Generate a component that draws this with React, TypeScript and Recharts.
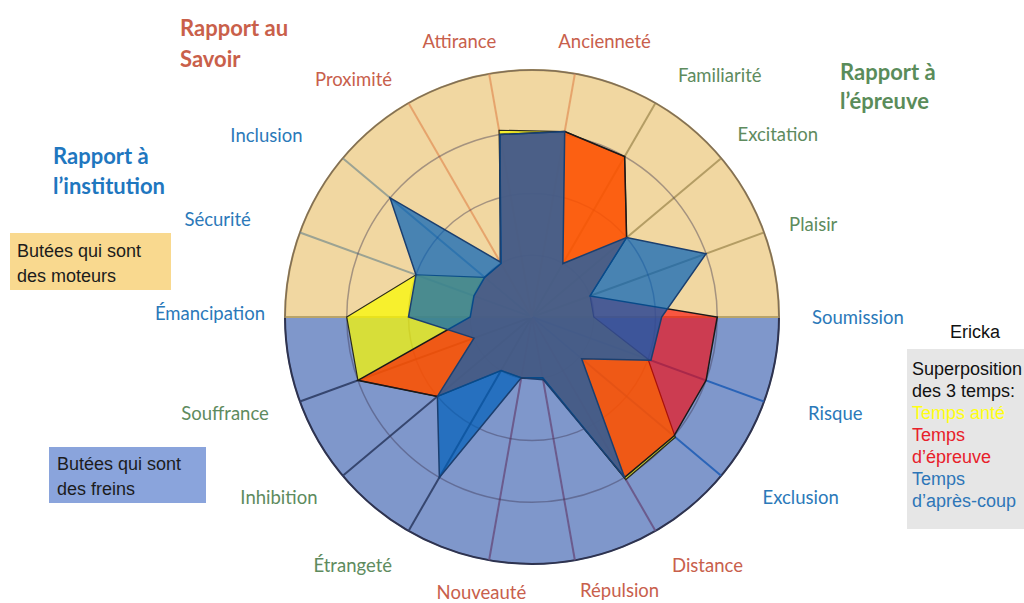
import React from "react";
import {
  PieChart,
  Pie,
  Cell,
  RadarChart,
  Radar,
  PolarGrid,
  PolarAngleAxis,
  PolarRadiusAxis,
} from "recharts";

// axes du radar, dans le sens horaire depuis le haut
const axes = [
  "Ancienneté",
  "Familiarité",
  "Excitation",
  "Plaisir",
  "Soumission",
  "Risque",
  "Exclusion",
  "Distance",
  "Répulsion",
  "Nouveauté",
  "Étrangeté",
  "Inhibition",
  "Souffrance",
  "Émancipation",
  "Sécurité",
  "Inclusion",
  "Proximité",
  "Attirance",
];

const groupes = [
  "savoir", "epreuve", "epreuve", "epreuve", "institution", "institution",
  "institution", "savoir", "savoir", "savoir", "epreuve", "epreuve",
  "epreuve", "institution", "institution", "institution", "savoir", "savoir",
];

const tempsAnte = [3.05, 3, 2, 1, 1, 2, 3.03, 3.04, 1, 1, 1, 2, 3, 3, 2, 1, 1, 3.07];
const tempsEpreuve = [3.05, 3, 2, 1, 3, 3, 3, 3, 1, 1, 1, 2, 3, 1, 1, 1, 1, 3];
const tempsApresCoup = [3.05, 1, 2, 3, 2.1, 2.05, 1.05, 3, 1.03, 1, 3, 2, 1, 2, 2, 3, 1.03, 3];

const zones = [
  { nom: "Butées qui sont des freins", part: 1 },
  { nom: "Butées qui sont des moteurs", part: 1 },
];

const W = 1024;
const H = 603;
const CX = 532;
const CY = 317;
const R = 247;
const MARGE = { top: 0, right: 0, bottom: 0, left: 0 };

const couleurLabel: Record<string, string> = {
  savoir: "#c8604c",
  epreuve: "#5e8b5e",
  institution: "#2b79b9",
};

// [moitié haute, moitié basse]
const couleurRayon: Record<string, string[]> = {
  savoir: ["#e6a46c", "#6b5b8d"],
  epreuve: ["#b49d64", "#36466f"],
  institution: ["#9ca393", "#2a64b8"],
};

// petits ajustements de placement des étiquettes (comme dans l'original)
const decalage: Record<string, number[]> = {
  Familiarité: [6, 0],
  Excitation: [-9, -3],
  Plaisir: [-6, 3],
  Risque: [13, 0],
  Exclusion: [16, 0],
  Distance: [0, 6],
  Répulsion: [15, -3],
  Nouveauté: [22, -1],
  Étrangeté: [0, 6],
  Émancipation: [13, -4],
  Sécurité: [-18, -2],
  Inclusion: [-15, -2],
  Proximité: [0, 4],
};

const data = axes.map((axe, i) => ({
  axe,
  ante: tempsAnte[i],
  epreuve: tempsEpreuve[i],
  apres: tempsApresCoup[i],
}));

function Rayon(props: any) {
  const { payload } = props;
  const i = axes.indexOf(payload.value);
  const a = (payload.coordinate * Math.PI) / 180;
  const dx = Math.cos(a);
  const dy = -Math.sin(a);
  const horizon = Math.abs(dy) < 0.01;
  const stroke = horizon ? "#b9a46a" : couleurRayon[groupes[i]][dy < 0 ? 0 : 1];
  return (
    <line x1={CX} y1={CY} x2={CX + R * dx} y2={CY + R * dy} stroke={stroke} strokeWidth={2} />
  );
}

function Etiquette(props: any) {
  const { payload } = props;
  const i = axes.indexOf(payload.value);
  const a = (payload.coordinate * Math.PI) / 180;
  const dx = Math.cos(a);
  const dy = -Math.sin(a);
  const [nx, ny] = decalage[payload.value] || [0, 0];
  let x = CX + 280 * dx + nx;
  const y = CY + 280 * dy + ny;
  let anchor = dx > 0 ? "start" : "end";
  if (Math.abs(dx) < 0.2) {
    anchor = "middle";
    x += Math.sign(dx) * 24;
  }
  return (
    <text
      x={x}
      y={y}
      textAnchor={anchor}
      dominantBaseline="central"
      fill={couleurLabel[groupes[i]]}
      fontSize={18.5}
      fontFamily="Lato"
    >
      {payload.value}
    </text>
  );
}

const calque: React.CSSProperties = { position: "absolute", left: 0, top: 0 };

export default function App() {
  return (
    <div style={{ position: "absolute", left: 0, top: 0, width: W, height: H, background: "#fff" }}>
      <div style={calque}>
        <PieChart width={W} height={H} margin={MARGE}>
          <Pie
            data={zones}
            dataKey="part"
            cx={CX}
            cy={CY}
            innerRadius={0}
            outerRadius={R}
            startAngle={180}
            endAngle={540}
            isAnimationActive={false}
          >
            <Cell fill="#7f97cb" stroke="#27324f" strokeWidth={2} />
            <Cell fill="#f1d7a1" stroke="#b49a5c" strokeWidth={2} />
          </Pie>
        </PieChart>
      </div>

      <div style={calque}>
        <RadarChart
          width={W}
          height={H}
          data={data}
          cx={CX}
          cy={CY}
          outerRadius={R}
          startAngle={80}
          endAngle={-280}
          margin={MARGE}
        >
          <PolarAngleAxis dataKey="axe" tick={<Rayon />} tickLine={false} axisLine={false} />
          <PolarRadiusAxis domain={[0, 4]} tickCount={5} tick={false} axisLine={false} />
        </RadarChart>
      </div>

      <div style={calque}>
        <RadarChart
          width={W}
          height={H}
          data={data}
          cx={CX}
          cy={CY}
          outerRadius={R}
          startAngle={80}
          endAngle={-280}
          margin={MARGE}
        >
          <PolarGrid gridType="circle" radialLines={false} stroke="#3c3450" strokeOpacity={0.42} strokeWidth={1.5} />
          <PolarAngleAxis dataKey="axe" tick={<Etiquette />} tickLine={false} axisLine={false} />
          <PolarRadiusAxis domain={[0, 4]} tickCount={5} tick={false} axisLine={false} />
          <Radar
            name="Temps anté"
            dataKey="ante"
            fill="#fafa00"
            fillOpacity={0.72}
            stroke="#2a2a1a"
            strokeWidth={1.2}
            dot={false}
            isAnimationActive={false}
          />
          <Radar
            name="Temps d'épreuve"
            dataKey="epreuve"
            fill="#ff0000"
            fillOpacity={0.6}
            stroke="#1a1a1a"
            strokeWidth={1.5}
            dot={false}
            isAnimationActive={false}
          />
          <Radar
            name="Temps d'après-coup"
            dataKey="apres"
            fill="#005fb9"
            fillOpacity={0.7}
            stroke="#1b3f6f"
            strokeWidth={1.5}
            dot={false}
            isAnimationActive={false}
          />
        </RadarChart>
      </div>

      <svg width={W} height={H} style={calque}>
        <g fontFamily="Lato" fontWeight={700} fontSize={22}>
          <text x={180} y={36} fill="#c9604a">Rapport au</text>
          <text x={180} y={67} fill="#c9604a">Savoir</text>
          <text x={53} y={164} fill="#1f77bf">Rapport à</text>
          <text x={53} y={194} fill="#1f77bf">l’institution</text>
          <text x={840} y={80} fill="#5a8c5a">Rapport à</text>
          <text x={840} y={109} fill="#5a8c5a">l’épreuve</text>
        </g>
        <g fontFamily="Liberation Sans" fontSize={18} fill="#1c1c1c">
          <rect x={10} y={233} width={161} height={57} fill="#f9d98f" />
          <text x={17} y={257}>Butées qui sont</text>
          <text x={17} y={282}>des moteurs</text>
          <rect x={49} y={447} width={157} height={56} fill="#8aa4dc" />
          <text x={57} y={470}>Butées qui sont</text>
          <text x={57} y={495}>des freins</text>
          <text x={950} y={338} fill="#111">Ericka</text>
          <rect x={907} y={349} width={117} height={180} fill="#e6e6e6" />
          <text x={912} y={375} fill="#111">Superposition</text>
          <text x={912} y={397} fill="#111">des 3 temps:</text>
          <text x={912} y={419} fill="#ffff10">Temps anté</text>
          <text x={912} y={441} fill="#e8202a">Temps</text>
          <text x={912} y={463} fill="#e8202a">d’épreuve</text>
          <text x={912} y={485} fill="#2e76b8">Temps</text>
          <text x={912} y={507} fill="#2e76b8">d’après-coup</text>
        </g>
      </svg>
    </div>
  );
}
